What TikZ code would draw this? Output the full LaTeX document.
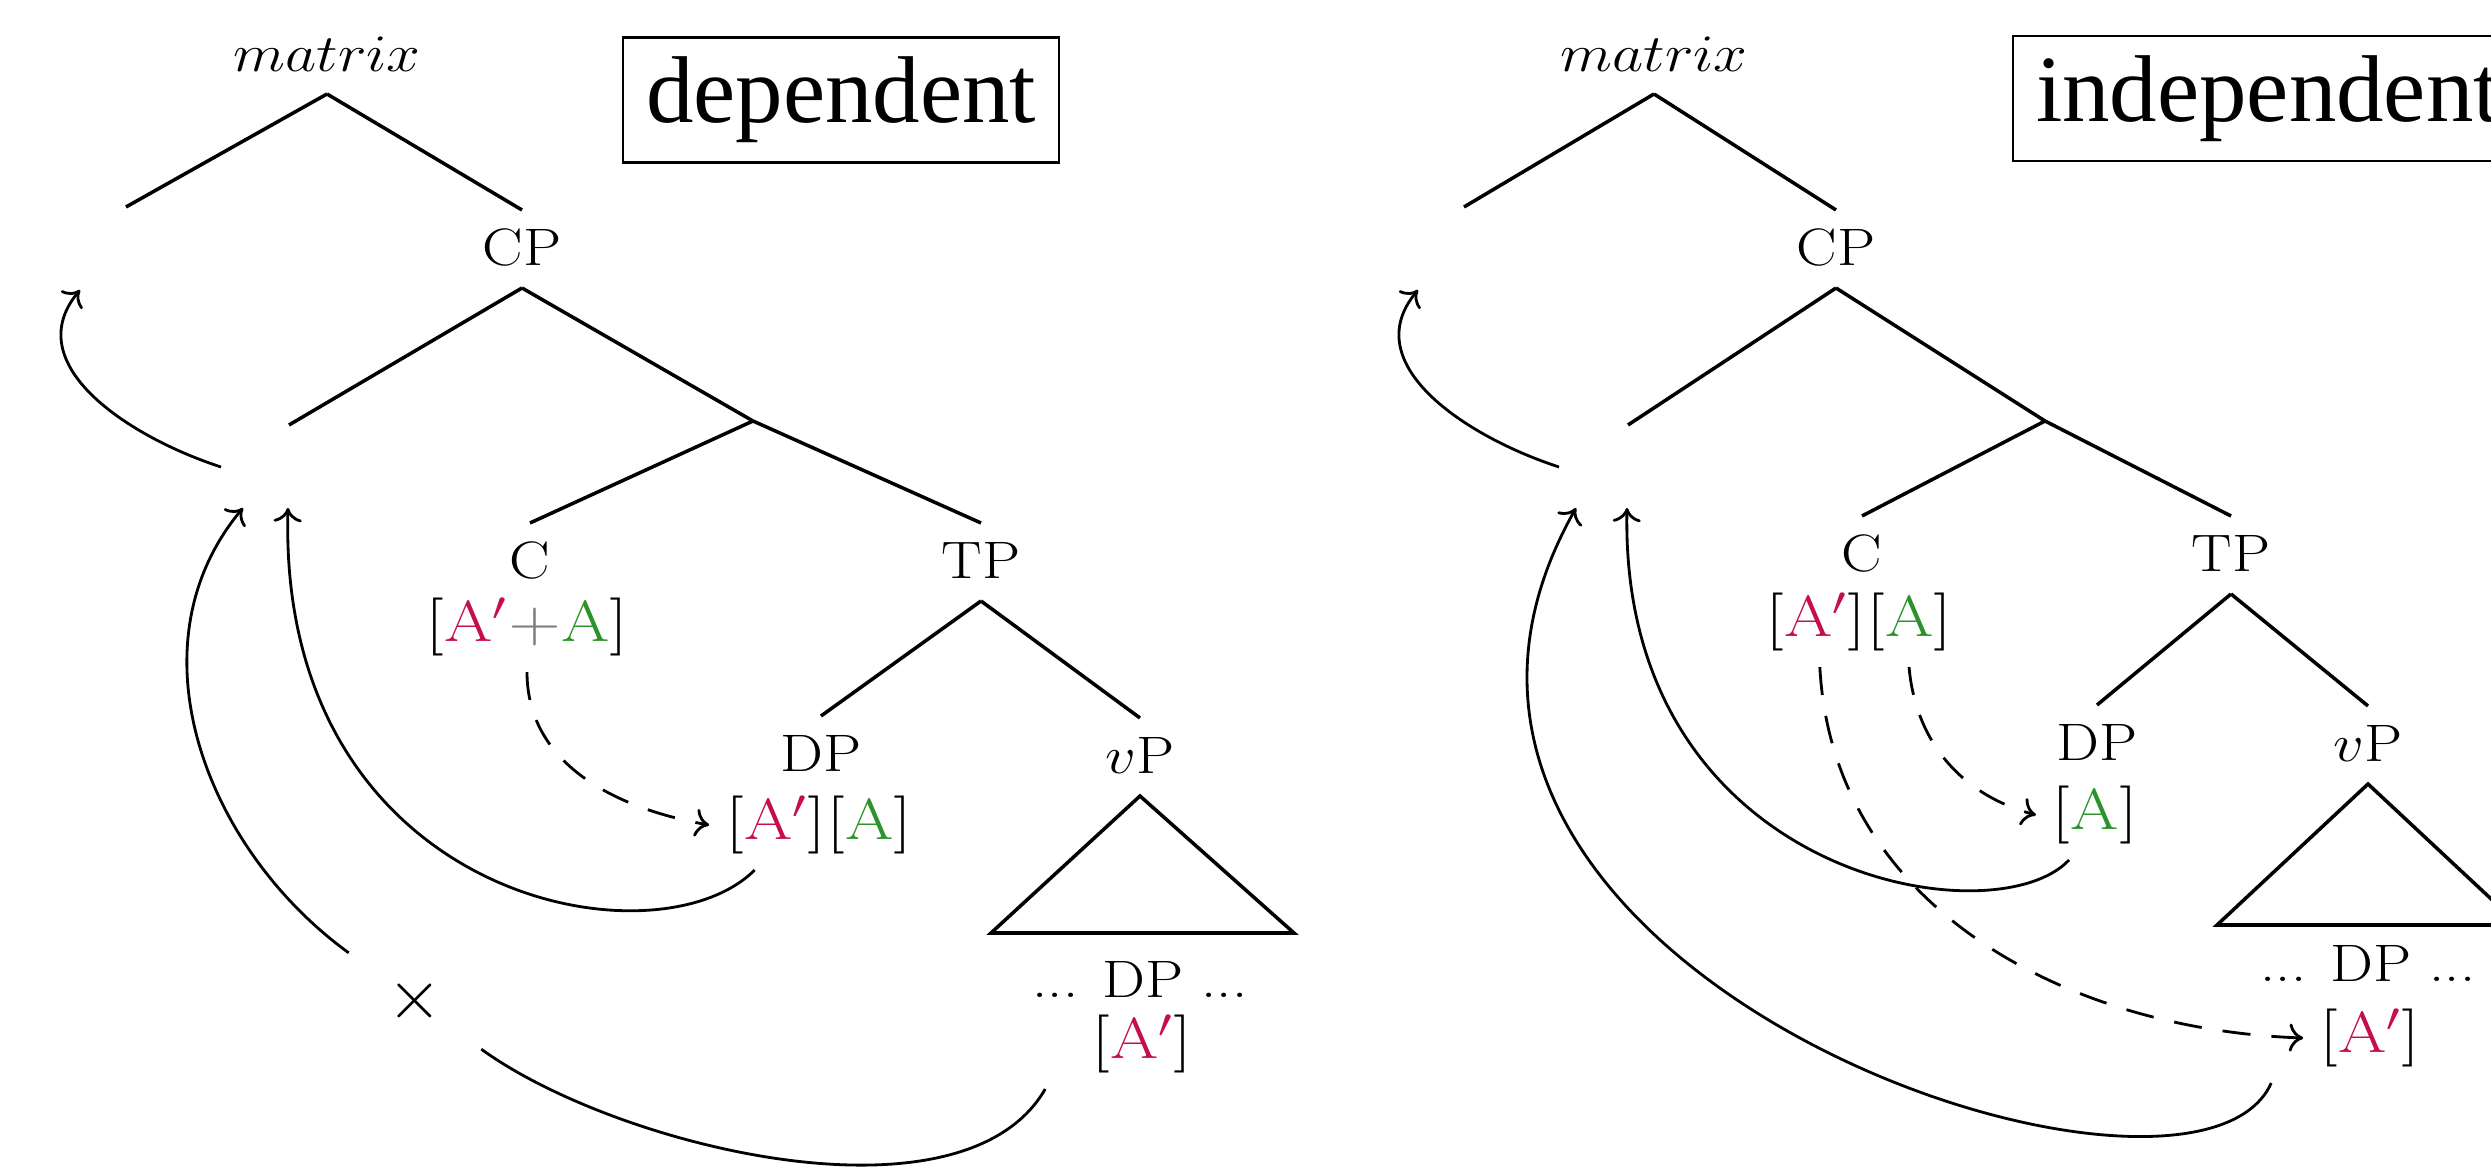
\RequirePackage{fix-cm}
\documentclass[tikz,border=0pt]{standalone}
\usepackage{fontspec}
\usepackage{xcolor}
\usetikzlibrary{arrows.meta}
\newfontfamily\tagfont{Liberation Serif}
\definecolor{featred}{RGB}{197,14,74}
\definecolor{featgreen}{RGB}{44,146,44}
\newcommand{\featP}{\textcolor{featred}{\mathrm{A}'}}
\newcommand{\featA}{\textcolor{featgreen}{\mathrm{A}}}
\newcommand{\stretchlab}[1]{\scalebox{1.15}[1]{#1}}
\newcommand{\stretchfeat}[1]{\scalebox{1.2}[1]{#1}}

\begin{document}
\begin{tikzpicture}[
    lab/.style={inner sep=0pt, outer sep=0.2cm, text height=0.36cm, text depth=0.02cm,
                font=\fontsize{15}{18}\selectfont},
    feat/.style={inner sep=0.06cm, outer sep=0.1cm, font=\fontsize{16.5}{19}\selectfont},
    tag/.style={draw, line width=0.6pt, minimum height=1.25cm, inner xsep=0.23cm,
                anchor=west, font=\tagfont\fontsize{27}{30}\selectfont},
    gap/.style={circle, inner sep=0.32cm, font=\fontsize{20}{24}\selectfont},
    br/.style={line width=1pt},
    mv/.style={-{To[length=4pt,width=8pt]}, line width=0.8pt},
    agr/.style={mv, dash pattern=on 8pt off 6pt}
]
\useasboundingbox (0,0) rectangle (24.91,-11.73);
\clip (0,0) rectangle (24.91,-11.73);

% dependent
\node[lab] (matL) at (3.27,-0.55) {\stretchlab{$matrix$}};
\node[tag] (depL) at (6.22,-1.00) {dependent};
\coordinate (lspecL) at (1.26,-2.07);
\node[lab] (cpL) at (5.22,-2.49) {\stretchlab{CP}};
\coordinate (specL) at (2.89,-4.25);
\coordinate (cbarL) at (7.53,-4.21);
\node[lab] (cL) at (5.30,-5.62) {\stretchlab{C}};
\node[lab] (tpL) at (9.81,-5.62) {\stretchlab{TP}};
\node[feat] (cfL) at (5.27,-6.27) {\stretchfeat{$[\featP\textcolor{gray}{+}\featA]$}};
\node[lab] (dpL) at (8.21,-7.55) {\stretchlab{DP}};
\node[lab] (vpL) at (11.40,-7.57) {\stretchlab{$v$P}};
\node[feat] (dfL) at (8.19,-8.25) {\stretchfeat{$[\featP][\featA]$}};
\coordinate (vbL1) at (9.91,-9.33);
\coordinate (vbL2) at (12.94,-9.33);
\node[lab] (lowL) at (11.40,-9.81) {\stretchlab{... DP ...}};
\node[feat] (lfL) at (11.42,-10.44) {\stretchfeat{$[\featP]$}};
\node[gap] (xL) at (4.15,-10.01) {$\times$};

\draw[br] (matL.south) -- (lspecL) (matL.south) -- (cpL.north);
\draw[br] (cpL.south) -- (specL) (cpL.south) -- (cbarL);
\draw[br] (cbarL) -- (cL.north) (cbarL) -- (tpL.north);
\draw[br] (tpL.south) -- (dpL.north) (tpL.south) -- (vpL.north);
\draw[br] (vpL.south) -- (vbL1) -- (vbL2) -- cycle;

\coordinate (fromL) at (2.21,-4.67);
\coordinate (topL) at (0.80,-2.90);
\coordinate (landL1) at (2.43,-5.08);
\coordinate (landL2) at (2.88,-5.08);
\draw[mv] (fromL) to[out=162, in=-130, looseness=1.1] (topL);
\draw[agr] (cfL.south) to[out=-90, in=170] (dfL.west);
\draw[mv] (dfL.-145) .. controls +(-1.0,-1.0) and +(-0.11,-3.91) .. (landL2);
\draw[line width=0.8pt] ([xshift=-0.3cm]lfL.south west) to[out=-120, in=-36, looseness=0.75] (xL);
\draw[mv] (xL) to[out=144, in=-130] (landL1);

% independent
\node[lab] (matR) at (16.54,-0.55) {\stretchlab{$matrix$}};
\node[tag] (indR) at (20.12,-0.985) {independent};
\coordinate (lspecR) at (14.64,-2.07);
\node[lab] (cpR) at (18.36,-2.49) {\stretchlab{CP}};
\coordinate (specR) at (16.28,-4.25);
\coordinate (cbarR) at (20.45,-4.21);
\node[lab] (cR) at (18.62,-5.55) {\stretchlab{C}};
\node[lab] (tpR) at (22.31,-5.55) {\stretchlab{TP}};
\node[feat] (cfR) at (18.59,-6.22) {\stretchfeat{$[\featP][\featA]$}};
\node[lab] (dpR) at (20.97,-7.44) {\stretchlab{DP}};
\node[lab] (vpR) at (23.68,-7.45) {\stretchlab{$v$P}};
\node[feat] (dfR) at (20.95,-8.15) {\stretchfeat{$[\featA]$}};
\coordinate (vbR1) at (22.17,-9.25);
\coordinate (vbR2) at (25.19,-9.25);
\node[lab] (lowR) at (23.68,-9.65) {\stretchlab{... DP ...}};
\node[feat] (lfR) at (23.70,-10.38) {\stretchfeat{$[\featP]$}};

\draw[br] (matR.south) -- (lspecR) (matR.south) -- (cpR.north);
\draw[br] (cpR.south) -- (specR) (cpR.south) -- (cbarR);
\draw[br] (cbarR) -- (cR.north) (cbarR) -- (tpR.north);
\draw[br] (tpR.south) -- (dpR.north) (tpR.south) -- (vpR.north);
\draw[br] (vpR.south) -- (vbR1) -- (vbR2) -- cycle;

\coordinate (fromR) at (15.59,-4.67);
\coordinate (topR) at (14.18,-2.90);
\coordinate (landR1) at (15.76,-5.08);
\coordinate (landR2) at (16.27,-5.08);
\draw[mv] (fromR) to[out=162, in=-130, looseness=1.1] (topR);
\draw[agr] (cfR.-42) to[out=-85, in=165] (dfR.west);
\draw[agr] (cfR.-131) to[out=-87, in=178] (lfR.west);
\draw[mv] (dfR.-120) .. controls +(-0.75,-0.8) and +(-0.08,-3.7) .. (landR2);
\draw[mv] ([xshift=-0.32cm]lfR.south west) .. controls +(-0.8,-1.8) and +(-2.6,-4.6) .. (landR1);
\end{tikzpicture}
\end{document}
